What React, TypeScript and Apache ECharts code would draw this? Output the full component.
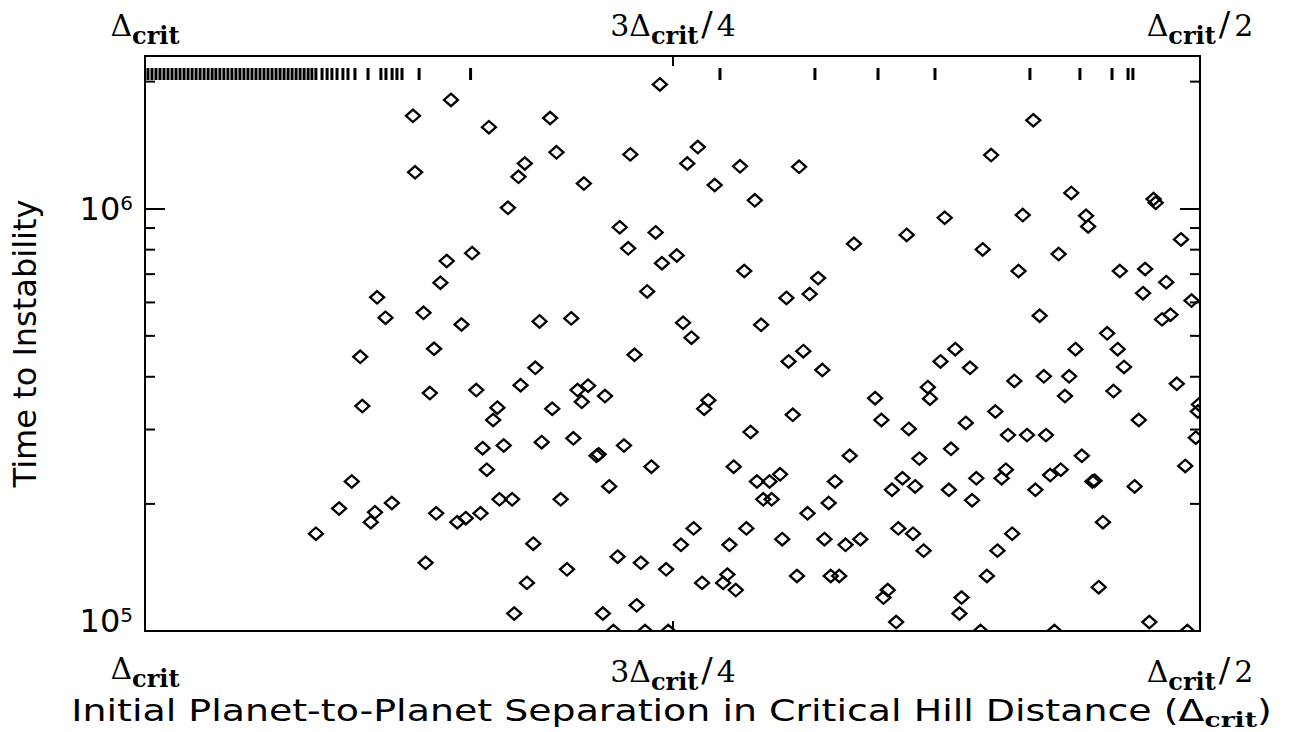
import React, { useEffect, useRef } from 'react';
import * as echarts from 'echarts';

// Initial separation (in units of the critical Hill distance) and time to instability (yr)
const separation = [
  0.855, 0.873, 0.837, 0.872, 0.820, 0.823, 0.828, 0.845, 0.857, 0.860,
  0.890, 0.886, 0.868, 0.850, 0.863, 0.898, 0.897, 0.865, 0.843, 0.822,
  0.833, 0.835, 0.840, 0.830, 0.838, 0.902, 0.908, 0.891, 0.893, 0.883,
  0.862, 0.852, 0.848, 0.841, 0.832, 0.826, 0.919, 0.867, 0.825,
  0.756, 0.808, 0.805, 0.770, 0.738, 0.743, 0.718, 0.792, 0.730, 0.775,
  0.758, 0.771, 0.755, 0.748, 0.716, 0.762, 0.813, 0.798, 0.745, 0.741,
  0.768, 0.815, 0.790, 0.795, 0.793, 0.782, 0.807, 0.733, 0.735, 0.812,
  0.797, 0.786, 0.785, 0.773, 0.760, 0.721, 0.780, 0.803, 0.816, 0.800,
  0.819, 0.776, 0.765, 0.753, 0.740, 0.746, 0.736, 0.723, 0.715, 0.724,
  0.726, 0.720, 0.767, 0.783, 0.778, 0.763, 0.752,
  0.690, 0.711, 0.664, 0.639, 0.621, 0.681, 0.696, 0.685, 0.708, 0.688,
  0.695, 0.679, 0.616, 0.623, 0.609, 0.629, 0.628, 0.654, 0.693, 0.713,
  0.651, 0.638, 0.611, 0.666, 0.633, 0.618, 0.606, 0.710, 0.704, 0.699,
  0.707, 0.703, 0.673, 0.676, 0.686, 0.646, 0.641, 0.635, 0.619, 0.608,
  0.643, 0.636, 0.631, 0.698, 0.678, 0.668, 0.661, 0.691, 0.675, 0.671,
  0.648, 0.650, 0.644, 0.613, 0.614,
  0.579, 0.599, 0.561, 0.584, 0.554, 0.553, 0.522, 0.521, 0.509, 0.603,
  0.567, 0.586, 0.538, 0.526, 0.516, 0.527, 0.504, 0.518, 0.514, 0.576,
  0.544, 0.559, 0.539, 0.536, 0.574, 0.562, 0.588, 0.511, 0.541, 0.564,
  0.5005, 0.501, 0.597, 0.529, 0.591, 0.582, 0.573, 0.502, 0.556, 0.507,
  0.592, 0.566, 0.571, 0.594, 0.551, 0.550, 0.531, 0.578, 0.546, 0.589,
  0.596, 0.601, 0.548, 0.524, 0.604, 0.569, 0.506,
];

const timeToInstability = [
  1.81e6, 1.66e6, 1.56e6, 1.22e6, 1.28e6, 1.19e6, 1.005e6, 7.85e5, 7.52e5, 6.68e5,
  6.17e5, 5.52e5, 5.67e5, 5.32e5, 4.66e5, 4.46e5, 3.41e5, 3.66e5, 3.72e5, 3.82e5,
  3.38e5, 3.16e5, 2.71e5, 2.75e5, 2.41e5, 2.26e5, 1.95e5, 1.91e5, 1.81e5, 2.01e5,
  1.90e5, 1.81e5, 1.85e5, 1.90e5, 2.05e5, 2.05e5, 1.70e5, 1.45e5, 1.10e5,
  1.97e6, 1.64e6, 1.36e6, 1.345e6, 1.40e6, 1.28e6, 1.26e6, 1.147e6, 1.138e6, 9.04e5,
  8.79e5, 8.06e5, 7.43e5, 7.75e5, 7.12e5, 6.37e5, 5.41e5, 5.50e5, 5.37e5, 4.95e5,
  4.51e5, 4.20e5, 3.81e5, 3.72e5, 3.49e5, 3.60e5, 3.36e5, 3.52e5, 3.36e5, 2.80e5,
  2.86e5, 2.60e5, 2.62e5, 2.75e5, 2.45e5, 2.45e5, 2.20e5, 2.05e5, 1.61e5, 1.40e5,
  1.30e5, 1.50e5, 1.45e5, 1.40e5, 1.75e5, 1.60e5, 1.30e5, 1.60e5, 1.75e5, 1.36e5,
  1.30e5, 1.25e5, 1.15e5, 1.10e5, 1.0e5, 1.0e5, 1.0e5,
  1.257e6, 1.047e6, 8.26e5, 8.67e5, 9.52e5, 6.85e5, 6.15e5, 6.28e5, 5.31e5, 4.60e5,
  4.35e5, 4.15e5, 4.65e5, 4.35e5, 4.20e5, 3.78e5, 3.55e5, 3.56e5, 3.25e5, 2.96e5,
  3.16e5, 3.01e5, 3.11e5, 2.60e5, 2.56e5, 2.70e5, 2.30e5, 2.26e5, 2.26e5, 2.35e5,
  2.05e5, 2.05e5, 2.26e5, 2.01e5, 1.90e5, 2.16e5, 2.30e5, 2.20e5, 2.16e5, 2.04e5,
  1.75e5, 1.70e5, 1.55e5, 1.65e5, 1.65e5, 1.60e5, 1.65e5, 1.35e5, 1.35e5, 1.35e5,
  1.25e5, 1.20e5, 1.05e5, 1.20e5, 1.10e5,
  1.62e6, 1.34e6, 1.09e6, 9.66e5, 9.62e5, 9.08e5, 1.054e6, 1.033e6, 8.46e5, 8.01e5,
  7.81e5, 7.12e5, 7.12e5, 7.20e5, 6.70e5, 6.31e5, 6.06e5, 5.47e5, 5.61e5, 5.58e5,
  5.07e5, 4.65e5, 4.65e5, 4.22e5, 4.01e5, 4.01e5, 3.91e5, 3.85e5, 3.70e5, 3.60e5,
  3.44e5, 3.31e5, 3.31e5, 3.16e5, 2.91e5, 2.91e5, 2.91e5, 2.87e5, 2.60e5, 2.46e5,
  2.41e5, 2.41e5, 2.34e5, 2.30e5, 2.26e5, 2.27e5, 2.20e5, 2.16e5, 1.81e5, 1.70e5,
  1.55e5, 1.35e5, 1.27e5, 1.05e5, 1.0e5, 1.0e5, 1.0e5,
];

// Separations of systems that stayed stable (tick marks along the top)
const stableSeparation = [
  0.9986, 0.9967, 0.9948, 0.9929, 0.9910, 0.9891, 0.9872, 0.9853, 0.9834, 0.9815,
  0.9796, 0.9777, 0.9758, 0.9739, 0.9720, 0.9701, 0.9682, 0.9664, 0.9645, 0.9626,
  0.9607, 0.9588, 0.9569, 0.9550, 0.9531, 0.9512, 0.9493, 0.9474, 0.9455, 0.9436,
  0.9417, 0.9398, 0.9379, 0.9360, 0.9341, 0.9322, 0.9303, 0.9284, 0.9265, 0.9246,
  0.9227, 0.9209, 0.9190, 0.9161, 0.9137, 0.9114, 0.9090, 0.9062, 0.9038, 0.9005,
  0.8943, 0.8882, 0.8858, 0.8829, 0.8806, 0.8782, 0.8701, 0.8457, 0.7275, 0.6825,
  0.6526, 0.6256, 0.5806, 0.5569, 0.5417, 0.5341, 0.5318,
];

const X_MIN = 0.5;
const X_MAX = 1.0;
const X_INTERVAL = 0.25;
const Y_MIN = 1e5;
const Y_MAX = 2.3e6;
const minorTickValues = [2e5, 3e5, 4e5, 5e5, 6e5, 7e5, 8e5, 9e5, 2e6];

const X_TITLE_MAIN = 'Initial Planet-to-Planet Separation in Critical Hill Distance (';
const Y_TITLE = 'Time to Instability';

const SERIF = "'DejaVu Serif', 'Liberation Serif', serif";
const SANS = "'DejaVu Sans', 'Liberation Sans', sans-serif";

const deltaRich = {
  d: { fontFamily: SERIF, fontSize: 30, color: '#000', verticalAlign: 'bottom', padding: [0, 0, 7, 0] },
  n: { fontFamily: SERIF, fontSize: 30, color: '#000', verticalAlign: 'bottom', padding: [0, 0, 7, 1] },
  sl: { fontFamily: SERIF, fontSize: 34, color: '#000', verticalAlign: 'bottom', padding: [0, 3, 6, 3] },
  c: { fontFamily: SERIF, fontSize: 24, fontWeight: 'bold', color: '#000', verticalAlign: 'bottom' },
};

function xLabel(v: number): string {
  if (Math.abs(v - 1) < 1e-6) return '{d|Δ}{c|crit}';
  if (Math.abs(v - 0.75) < 1e-6) return '{n|3}{d|Δ}{c|crit}{sl|/}{n|4}';
  if (Math.abs(v - 0.5) < 1e-6) return '{d|Δ}{c|crit}{sl|/}{n|2}';
  return '';
}

function yLabel(v: number): string {
  const e = Math.log10(v);
  const r = Math.round(e);
  if (Math.abs(e - r) < 1e-6) {
    if (r === 5) return '{b5|10}{s5|' + r + '}';
    return '{b|10}{s|' + r + '}';
  }
  return '';
}

export default function App() {
  const ref = useRef<HTMLDivElement>(null);
  useEffect(() => {
    if (!ref.current) return;
    const chart = echarts.init(ref.current, null, { renderer: 'svg' });
    const points = separation.map((s, i) => [s, timeToInstability[i]]);
    const rug = stableSeparation.map((s) => [s, Y_MAX]);
    const minor = minorTickValues.map((v) => [X_MAX, v]);

    const xAxisBase = {
      type: 'value',
      min: X_MIN,
      max: X_MAX,
      interval: X_INTERVAL,
      inverse: true,
      splitLine: { show: false },
      axisLine: { show: true, onZero: false, lineStyle: { color: '#000', width: 2 } },
      axisTick: { show: true, inside: true, length: 10, lineStyle: { color: '#000', width: 2 } },
    };
    const yAxisBase = {
      type: 'log',
      logBase: 10,
      min: Y_MIN,
      max: Y_MAX,
      splitLine: { show: false },
      axisLine: { show: true, onZero: false, lineStyle: { color: '#000', width: 2 } },
      axisTick: { show: true, inside: true, length: 20, lineStyle: { color: '#000', width: 2 } },
    };

    chart.setOption({
      animation: false,
      backgroundColor: '#fff',
      grid: { left: 145, right: 92, top: 56, bottom: 101, containLabel: false, outerBoundsMode: 'none' },
      graphic: [
        {
          type: 'text',
          x: 671.5,
          y: 695.5,
          scaleX: 1.264,
          style: {
            text: '{t|' + X_TITLE_MAIN + '}{u|Δ}{c|crit}{t|)}',
            align: 'center',
            verticalAlign: 'top',
            rich: {
              t: { fontFamily: SANS, fontSize: 30, fill: '#000', verticalAlign: 'bottom', padding: [0, 0, 5, 0] },
              u: { fontFamily: SANS, fontSize: 30, fill: '#000', verticalAlign: 'bottom', padding: [0, 0, 5, 0] },
              c: { fontFamily: SERIF, fontSize: 21, fontWeight: 'bold', fill: '#000', verticalAlign: 'bottom' },
            },
          },
        },
      ],
      xAxis: [
        {
          ...xAxisBase,
          position: 'bottom',
          axisLabel: { margin: 22, formatter: xLabel, rich: deltaRich },
        },
        {
          ...xAxisBase,
          position: 'top',
          axisLabel: { margin: 9, formatter: xLabel, rich: deltaRich },
        },
      ],
      yAxis: [
        {
          ...yAxisBase,
          position: 'left',
          axisLabel: {
            margin: 12,
            formatter: yLabel,
            rich: {
              b: { fontFamily: SANS, fontSize: 32, color: '#000', verticalAlign: 'bottom' },
              s: { fontFamily: SANS, fontSize: 20, color: '#000', verticalAlign: 'top' },
              b5: { fontFamily: SANS, fontSize: 32, color: '#000', verticalAlign: 'bottom', padding: [0, 0, 20, 0] },
              s5: { fontFamily: SANS, fontSize: 20, color: '#000', verticalAlign: 'top' },
            },
          },
          name: Y_TITLE,
          nameLocation: 'middle',
          nameGap: 104,
          nameTextStyle: { fontFamily: SANS, fontSize: 32, color: '#000' },
        },
        {
          ...yAxisBase,
          position: 'right',
          axisLabel: { show: false },
        },
      ],
      series: [
        {
          type: 'custom',
          name: 'unstable',
          xAxisIndex: 0,
          yAxisIndex: 0,
          clip: true,
          data: points,
          encode: { x: 0, y: 1 },
          renderItem: (params: any, api: any) => {
            const p = api.coord([api.value(0), api.value(1)]);
            const hw = 7;
            const hh = 6.2;
            return {
              type: 'polygon',
              shape: { points: [[p[0], p[1] - hh], [p[0] + hw, p[1]], [p[0], p[1] + hh], [p[0] - hw, p[1]]] },
              style: { fill: 'none', stroke: '#000', lineWidth: 2.3 },
            };
          },
        },
        {
          type: 'custom',
          name: 'stable',
          xAxisIndex: 0,
          yAxisIndex: 0,
          clip: false,
          data: rug,
          encode: { x: 0, y: 1 },
          renderItem: (params: any, api: any) => {
            const p = api.coord([api.value(0), api.value(1)]);
            return {
              type: 'rect',
              shape: { x: p[0] - 1.5, y: p[1] + 12, width: 3, height: 12 },
              style: { fill: '#000' },
            };
          },
        },
        {
          type: 'custom',
          name: 'minorTicks',
          xAxisIndex: 0,
          yAxisIndex: 0,
          clip: false,
          data: minor,
          encode: { x: 0, y: 1 },
          renderItem: (params: any, api: any) => {
            const left = api.coord([X_MAX, api.value(1)]);
            const right = api.coord([X_MIN, api.value(1)]);
            return {
              type: 'group',
              children: [
                { type: 'line', shape: { x1: left[0], y1: left[1], x2: left[0] + 10, y2: left[1] }, style: { stroke: '#000', lineWidth: 2 } },
                { type: 'line', shape: { x1: right[0], y1: right[1], x2: right[0] - 10, y2: right[1] }, style: { stroke: '#000', lineWidth: 2 } },
              ],
            };
          },
        },
      ],
    });
    return () => chart.dispose();
  }, []);
  return (
    <div
      ref={ref}
      style={{ position: 'fixed', left: 0, top: 0, width: 1292, height: 732, background: '#fff' }}
    />
  );
}
